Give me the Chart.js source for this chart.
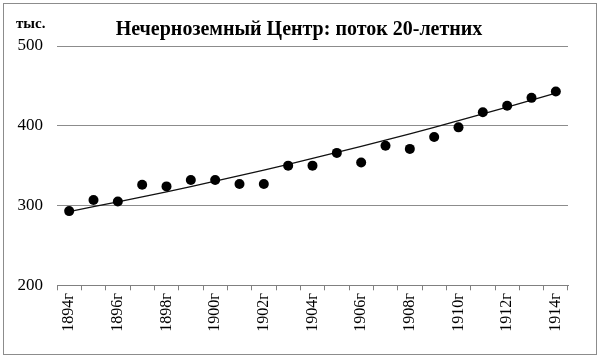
<!DOCTYPE html>
<html>
<head>
<meta charset="utf-8">
<script src="https://cdn.jsdelivr.net/npm/chart.js@4/dist/chart.umd.min.js"></script>
<style>
html,body{margin:0;padding:0;background:#fff;}
#wrap{width:600px;height:358px;position:relative;}
</style>
</head>
<body>
<div id="wrap"><canvas id="c" width="600" height="358"></canvas></div>
<script>
const years = ["1894г","1895г","1896г","1897г","1898г","1899г","1900г","1901г","1902г","1903г","1904г","1905г","1906г","1907г","1908г","1909г","1910г","1911г","1912г","1913г","1914г"];
const cohort = [293,307,305,326,324,332,332,327,327,350,350,366,354,375,371,386,398,417,425,435,443];
const trend = [292.5,298.5,304.6,310.8,317.2,323.8,330.5,337.4,344.5,351.7,359.0,366.5,374.2,382.0,389.9,398.1,406.3,414.8,423.4,432.1,441.0];
const yTicks = [200,300,400,500];
const titleText = "Нечерноземный Центр: поток 20-летних";
const unitText = "тыс.";

const serif = "'Liberation Serif','Times New Roman',serif";

const decor = {
  id: 'decor',
  beforeDraw(chart){
    const ctx = chart.ctx;
    ctx.save();
    ctx.fillStyle = '#fff';
    ctx.fillRect(0,0,chart.width,chart.height);
    ctx.strokeStyle = '#8c8c8c';
    ctx.lineWidth = 1;
    ctx.strokeRect(3.5,3.5,593,351);
    ctx.restore();
  },
  afterDraw(chart){
    const ctx = chart.ctx;
    ctx.save();
    ctx.fillStyle = '#000';
    ctx.textBaseline = 'middle';
    ctx.font = 'bold 20px ' + serif;
    ctx.textAlign = 'center';
    ctx.fillText(titleText, 299, 30);
    ctx.font = 'bold 15px ' + serif;
    ctx.textAlign = 'left';
    ctx.fillText(unitText, 16, 24);
    ctx.restore();
  }
};

new Chart(document.getElementById('c'), {
  type: 'line',
  data: {
    labels: years,
    datasets: [
      {
        label: 'поток 20-летних',
        data: cohort,
        showLine: false,
        pointRadius: 5,
        pointHoverRadius: 5,
        pointBackgroundColor: '#000',
        pointBorderColor: '#000',
        pointBorderWidth: 0,
        order: 1
      },
      {
        label: 'тренд',
        data: trend,
        borderColor: '#111',
        borderWidth: 1.3,
        pointRadius: 0,
        tension: 0,
        fill: false,
        order: 2
      }
    ]
  },
  options: {
    responsive: false,
    animation: false,
    events: [],
    layout: { padding: { left: 0, right: 32, top: 46, bottom: 0 } },
    plugins: {
      legend: { display: false },
      title: { display: false },
      tooltip: { enabled: false }
    },
    scales: {
      x: {
        type: 'category',
        offset: true,
        afterFit(scale){ scale.height = 72.7; },
        grid: {
          offset: true,
          drawOnChartArea: false,
          drawTicks: true,
          tickLength: 5,
          color: '#808080',
          tickColor: '#808080'
        },
        border: { display: true, color: '#808080', width: 1 },
        ticks: {
          autoSkip: false,
          maxRotation: 90,
          minRotation: 90,
          padding: 3,
          color: '#000',
          font: { family: serif, size: 16 },
          callback(value, index){ return index % 2 === 0 ? years[index] : ''; }
        }
      },
      y: {
        min: 200,
        max: 500,
        afterFit(scale){ scale.width = 57; },
        afterBuildTicks(scale){ scale.ticks = yTicks.map(v => ({value: v})); },
        grid: {
          drawTicks: false,
          color: '#8c8c8c',
          lineWidth: 1
        },
        border: { display: false },
        ticks: {
          padding: 14,
          color: '#000',
          font: { family: serif, size: 17 }
        }
      }
    }
  },
  plugins: [decor]
});
</script>
</body>
</html>
